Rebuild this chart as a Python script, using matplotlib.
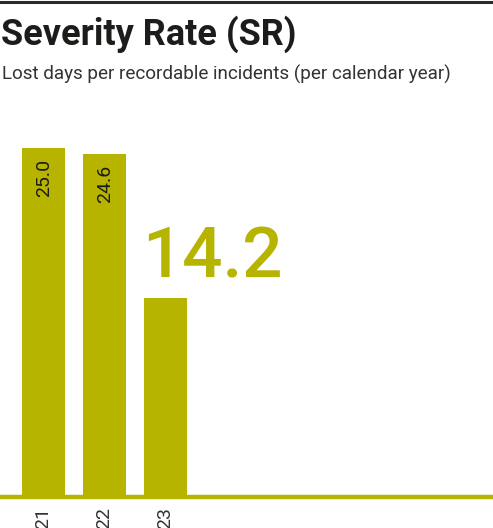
import matplotlib
matplotlib.use("Agg")
import matplotlib.pyplot as plt
from matplotlib.lines import Line2D

years = ["21", "22", "23"]
values = [25.0, 24.6, 14.2]

olive = "#b7b400"
dark = "#1c1c1a"

plt.rcParams["font.family"] = ["Roboto", "DejaVu Sans"]

W, H = 493, 528
fig = plt.figure(figsize=(W / 100, H / 100), dpi=100)

# top rule
fig.add_artist(Line2D([0, 1], [1 - 1.5 / H, 1 - 1.5 / H], color="#2a2a28", lw=2.2,
                      transform=fig.transFigure))

fig.text(1 / W, 1 - 45 / H, "Severity Rate (SR)", fontsize=26, fontweight="bold",
         color=dark, va="baseline", ha="left")
fig.text(2 / W, 1 - 80 / H, "Lost days per recordable incidents (per calendar year)",
         fontsize=13.6, color="#333331", va="baseline", ha="left")

# axes: bars start at y=495 px from top, 13.88 px per unit
base_px = 495
top_px = 100
ppu = 13.88
ax = fig.add_axes([0, (H - base_px) / H, 1, (base_px - top_px) / H])
ax.set_xlim(-0.705, 7.377)
ax.set_ylim(0, (base_px - top_px) / ppu)

x = list(range(len(years)))
ax.bar(x, values, width=0.705, color=olive, zorder=2)
ax.axhline(-2 / ppu, color=olive, lw=3.2, zorder=3, clip_on=False)

for i, v in enumerate(values[:-1]):
    ax.text(i + 0.02, v - 0.8, f"{v:.1f}", rotation=90, ha="center", va="top",
            fontsize=14, color=dark)
ax.text(x[-1] - 0.38, values[-1] + 1.45, f"{values[-1]:.1f}", ha="left", va="baseline",
        fontsize=51, fontweight="medium", color=olive)

ax.set_xticks(x)
ax.set_xticklabels(years, rotation=90, fontsize=14, color="#333331", va="top")
ax.tick_params(axis="x", length=0, pad=8.5)
ax.set_yticks([])
for s in ax.spines.values():
    s.set_visible(False)
ax.patch.set_alpha(0)

fig.savefig("out.png", dpi=100)
